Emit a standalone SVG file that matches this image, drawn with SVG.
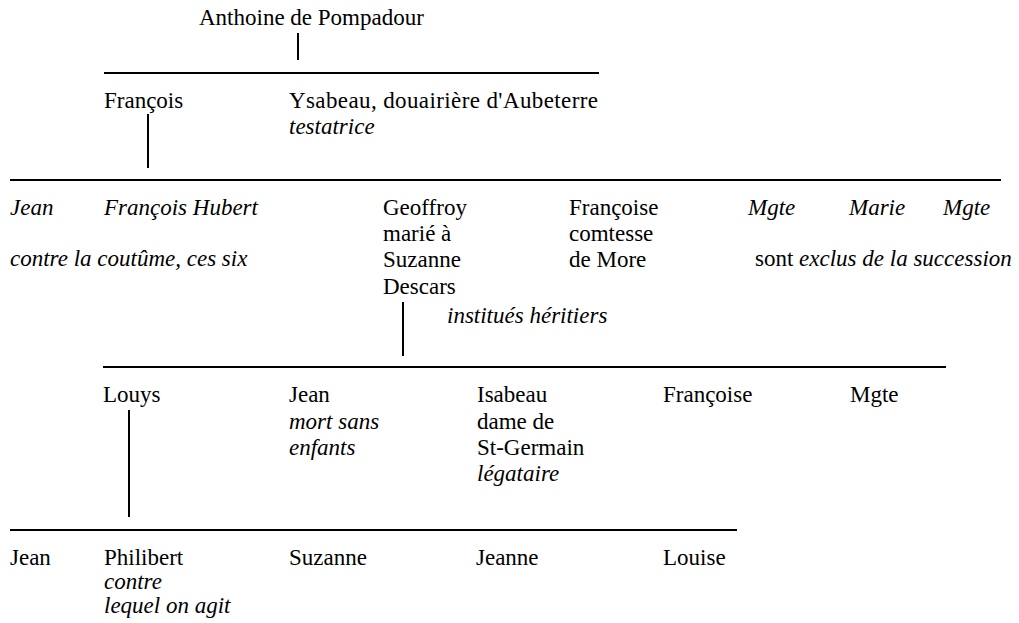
<svg xmlns="http://www.w3.org/2000/svg" width="1019" height="623" viewBox="0 0 1019 623">
<style>
text{font-family:"Liberation Serif","Times New Roman",serif;font-size:23px;fill:#000}
.i{font-style:italic}
.ln{stroke:#000;stroke-width:2;fill:none}
</style>
<rect width="1019" height="623" fill="#fff"/>
<g id="connectors">
<line class="ln" x1="298" y1="33" x2="298" y2="60"/>
<line class="ln" x1="104" y1="73" x2="599" y2="73"/>
<line class="ln" x1="148" y1="114" x2="148" y2="168"/>
<line class="ln" x1="10" y1="180" x2="1001" y2="180"/>
<line class="ln" x1="403" y1="302" x2="403" y2="356"/>
<line class="ln" x1="103" y1="367" x2="946" y2="367"/>
<line class="ln" x1="129" y1="410" x2="129" y2="517"/>
<line class="ln" x1="10" y1="530" x2="737" y2="530"/>
</g>
<g id="anthoine"><text x="199" y="25">Anthoine de Pompadour</text></g>
<g id="francois"><text x="104" y="108">François</text></g>
<g id="ysabeau"><text x="289" y="108" textLength="309" lengthAdjust="spacing">Ysabeau, douairière d'Aubeterre</text><text class="i" x="289" y="134">testatrice</text></g>
<g id="jean1"><text class="i" x="10" y="215">Jean</text></g>
<g id="francois-hubert"><text class="i" x="104" y="215">François Hubert</text></g>
<g id="note-six"><text class="i" x="10" y="266">contre la coutûme, ces six</text></g>
<g id="geoffroy"><text x="383" y="215">Geoffroy</text><text x="383" y="241">marié à</text><text x="383" y="267">Suzanne</text><text x="383" y="294">Descars</text></g>
<g id="francoise1"><text x="569" y="215">Françoise</text><text x="569" y="241">comtesse</text><text x="569" y="267">de More</text></g>
<g id="mgte1"><text class="i" x="748" y="215">Mgte</text></g>
<g id="marie"><text class="i" x="849" y="215">Marie</text></g>
<g id="mgte2"><text class="i" x="943" y="215">Mgte</text></g>
<g id="note-exclus"><text x="755" y="266">sont <tspan class="i">exclus de la succession</tspan></text></g>
<g id="note-heritiers"><text class="i" x="447" y="323">institués héritiers</text></g>
<g id="louys"><text x="103" y="402">Louys</text></g>
<g id="jean2"><text x="289" y="402">Jean</text><text class="i" x="289" y="429">mort sans</text><text class="i" x="289" y="455">enfants</text></g>
<g id="isabeau"><text x="477" y="402">Isabeau</text><text x="477" y="429">dame de</text><text x="477" y="455">St-Germain</text><text class="i" x="477" y="481">légataire</text></g>
<g id="francoise2"><text x="663" y="402">Françoise</text></g>
<g id="mgte3"><text x="850" y="402">Mgte</text></g>
<g id="jean3"><text x="10" y="565">Jean</text></g>
<g id="philibert"><text x="104" y="565">Philibert</text><text class="i" x="104" y="589">contre</text><text class="i" x="104" y="613">lequel on agit</text></g>
<g id="suzanne"><text x="289" y="565">Suzanne</text></g>
<g id="jeanne"><text x="476" y="565">Jeanne</text></g>
<g id="louise"><text x="663" y="565">Louise</text></g>
</svg>
